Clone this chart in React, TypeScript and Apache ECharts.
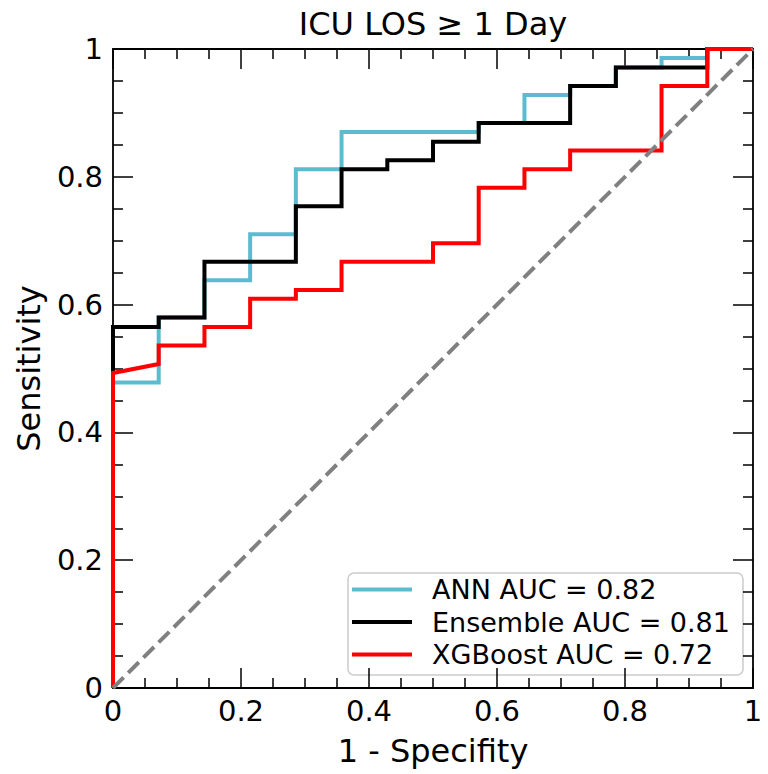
import React, { useEffect, useRef } from 'react';
import * as echarts from 'echarts';

const chartTitle = 'ICU LOS ≥ 1 Day';
const xAxisName = '1 - Specifity';
const yAxisName = 'Sensitivity';

const seriesNames = ['ANN AUC = 0.82', 'Ensemble AUC = 0.81', 'XGBoost AUC = 0.72'];
const seriesColors = ['#5cbbcf', '#000000', '#ff0000'];

// ANN ROC curve
const annFpr = [0, 0, 0.0714, 0.0714, 0.1429, 0.1429, 0.2143, 0.2143, 0.2857, 0.2857, 0.3571, 0.3571, 0.5714, 0.5714, 0.6429, 0.6429, 0.7143, 0.7143, 0.7857, 0.7857, 0.8571, 0.8571, 0.9286, 0.9286, 1];
const annTpr = [0, 0.478, 0.478, 0.580, 0.580, 0.638, 0.638, 0.710, 0.710, 0.812, 0.812, 0.870, 0.870, 0.884, 0.884, 0.928, 0.928, 0.942, 0.942, 0.971, 0.971, 0.986, 0.986, 1, 1];

// Ensemble ROC curve
const ensFpr = [0, 0, 0.0714, 0.0714, 0.1429, 0.1429, 0.2857, 0.2857, 0.3571, 0.3571, 0.4286, 0.4286, 0.5, 0.5, 0.5714, 0.5714, 0.7143, 0.7143, 0.7857, 0.7857, 0.9286, 0.9286, 1];
const ensTpr = [0, 0.565, 0.565, 0.580, 0.580, 0.667, 0.667, 0.754, 0.754, 0.812, 0.812, 0.826, 0.826, 0.855, 0.855, 0.884, 0.884, 0.942, 0.942, 0.971, 0.971, 1, 1];

// XGBoost ROC curve
const xgbFpr = [0, 0, 0.0714, 0.0714, 0.1429, 0.1429, 0.2143, 0.2143, 0.2857, 0.2857, 0.3571, 0.3571, 0.5, 0.5, 0.5714, 0.5714, 0.6429, 0.6429, 0.7143, 0.7143, 0.8571, 0.8571, 0.9286, 0.9286, 1];
const xgbTpr = [0, 0.493, 0.507, 0.536, 0.536, 0.565, 0.565, 0.609, 0.609, 0.623, 0.623, 0.667, 0.667, 0.696, 0.696, 0.783, 0.783, 0.812, 0.812, 0.841, 0.841, 0.942, 0.942, 1, 1];

// chance line
const chanceX = [0, 1];
const chanceY = [0, 1];

const FONT = "'DejaVu Sans', sans-serif";

const pair = (xs: number[], ys: number[]) => xs.map((x, i) => [x, ys[i]]);

export default function App() {
  const ref = useRef<HTMLDivElement>(null);

  useEffect(() => {
    document.body.style.margin = '0';
    if (!ref.current) return;
    const chart = echarts.init(ref.current, undefined, { renderer: 'svg' });

    const tickCommon = {
      axisLine: { show: true, onZero: false, lineStyle: { color: '#000', width: 1.8 } },
      axisTick: { show: true, inside: true, length: 20, lineStyle: { color: '#000', width: 1.5 } },
      minorTick: { show: true, splitNumber: 4, length: 10, lineStyle: { color: '#000', width: 1.5 } },
      splitLine: { show: false },
      minorSplitLine: { show: false },
    };

    const curves = [
      pair(annFpr, annTpr),
      pair(ensFpr, ensTpr),
      pair(xgbFpr, xgbTpr),
    ];

    const legendLeft = 348;
    const legendTop = 573;
    const rowGap = 32.5;
    const legendChildren: any[] = [
      {
        type: 'rect',
        shape: { x: legendLeft, y: legendTop, width: 395, height: 102, r: 6 },
        style: { fill: 'rgba(255,255,255,0.8)', stroke: '#cccccc', lineWidth: 1.5 },
      },
    ];
    seriesNames.forEach((name, i) => {
      const cy = legendTop + 16.5 + i * rowGap;
      legendChildren.push({
        type: 'line',
        shape: { x1: legendLeft + 4, y1: cy, x2: legendLeft + 64, y2: cy },
        style: { stroke: seriesColors[i], lineWidth: 4 },
      });
      legendChildren.push({
        type: 'text',
        x: legendLeft + 84,
        y: cy,
        style: {
          text: name,
          fill: '#000',
          font: `27px ${FONT}`,
          verticalAlign: 'middle',
          align: 'left',
        },
      });
    });

    chart.setOption({
      animation: false,
      backgroundColor: '#fff',
      title: {
        text: chartTitle,
        left: 428,
        top: 3,
        textAlign: 'center',
        textStyle: { fontFamily: FONT, fontSize: 32, fontWeight: 'normal', color: '#000' },
      },
      grid: { left: 113, right: 15, top: 49, bottom: 86, containLabel: false },
      xAxis: [
        {
          type: 'value',
          position: 'bottom',
          min: 0,
          max: 1,
          interval: 0.2,
          name: xAxisName,
          nameLocation: 'middle',
          nameGap: 47,
          nameTextStyle: { fontFamily: FONT, fontSize: 32, color: '#000' },
          axisLabel: { fontFamily: FONT, fontSize: 29, color: '#000', margin: 8 },
          ...tickCommon,
        },
        {
          type: 'value',
          position: 'top',
          min: 0,
          max: 1,
          interval: 0.2,
          axisLabel: { show: false },
          ...tickCommon,
        },
      ],
      yAxis: [
        {
          type: 'value',
          position: 'left',
          min: 0,
          max: 1,
          interval: 0.2,
          name: yAxisName,
          nameLocation: 'middle',
          nameGap: 68,
          nameTextStyle: { fontFamily: FONT, fontSize: 32, color: '#000' },
          axisLabel: { fontFamily: FONT, fontSize: 29, color: '#000', margin: 10 },
          ...tickCommon,
        },
        {
          type: 'value',
          position: 'right',
          min: 0,
          max: 1,
          interval: 0.2,
          axisLabel: { show: false },
          ...tickCommon,
        },
      ],
      series: [
        ...curves.map((data, i) => ({
          name: seriesNames[i],
          type: 'line',
          data,
          symbol: 'none',
          showSymbol: false,
          silent: true,
          lineStyle: { color: seriesColors[i], width: 4, join: 'miter' },
          itemStyle: { color: seriesColors[i] },
          z: 2 + i,
        })),
        {
          name: 'chance',
          type: 'line',
          data: pair(chanceX, chanceY),
          symbol: 'none',
          silent: true,
          lineStyle: { color: '#808080', width: 4, type: [15, 6.5] },
          z: 6,
        },
      ],
      graphic: [{ type: 'group', children: legendChildren, z: 100 }],
    });

    return () => chart.dispose();
  }, []);

  return <div ref={ref} style={{ width: 768, height: 774 }} />;
}
